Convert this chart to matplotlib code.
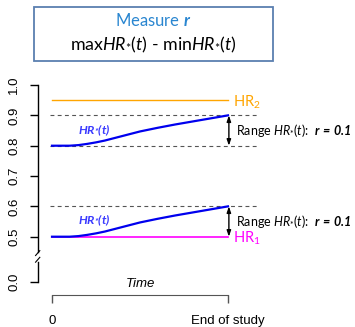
import numpy as np
import matplotlib
matplotlib.use("Agg")
import matplotlib.pyplot as plt
from matplotlib.patches import Rectangle

plt.rcParams['font.family'] = ['Liberation Sans', 'DejaVu Sans']
plt.rcParams['mathtext.fontset'] = 'custom'
plt.rcParams['mathtext.rm'] = 'Lato'
plt.rcParams['mathtext.it'] = 'Lato:italic'
plt.rcParams['mathtext.bf'] = 'Lato:bold'
plt.rcParams['mathtext.bfit'] = 'Lato:bold:italic'

# data
time = [0, 0.05, 0.1, 0.15, 0.2, 0.25, 0.3, 0.4, 0.5, 0.6, 0.7, 0.8, 0.9, 1.0]
hr_upper = [0.800, 0.800, 0.800, 0.802, 0.806, 0.811, 0.817, 0.832, 0.847, 0.859, 0.870, 0.880, 0.890, 0.900]
hr_lower = [0.500, 0.500, 0.500, 0.502, 0.506, 0.511, 0.517, 0.532, 0.547, 0.559, 0.570, 0.580, 0.590, 0.600]
hr1 = 0.5
hr2 = 0.95
ranges = [(0.8, 0.9), (0.5, 0.6)]
ytick_pos = [0.35, 0.5, 0.6, 0.7, 0.8, 0.9, 1.0]
ytick_lab = ["0.0", "0.5", "0.6", "0.7", "0.8", "0.9", "1.0"]
xtick_pos = [0, 1]
xtick_lab = ["0", "End of study"]

fig = plt.figure(figsize=(3.55, 3.27), dpi=100)
ax = fig.add_axes([0, 0, 1, 1])
ax.set_xlim(-0.2955, 1.7216)
ax.set_ylim(0.2023, 1.2804)
ax.patch.set_visible(False)

# axes (R style, with a break on the y axis)
xaxis_x = -0.0813
for s in ['top', 'right']:
    ax.spines[s].set_visible(False)
ax.spines['left'].set_position(('data', xaxis_x))
ax.spines['left'].set_bounds(0.4496, 1.0)
ax.spines['left'].set_linewidth(1.0)
ax.spines['bottom'].set_position(('data', 0.3078))
ax.spines['bottom'].set_bounds(0, 1)
ax.spines['bottom'].set_color('#555555')
ax.set_yticks(ytick_pos, ytick_lab, rotation=90, va='center', fontsize=9.5)
ax.set_xticks(xtick_pos, xtick_lab, fontsize=9.5)
ax.tick_params(axis='y', length=5.5, width=1.0, pad=7)
ax.tick_params(axis='x', length=5.5, width=1.0, pad=9, color='#555555')
ax.plot([xaxis_x, xaxis_x], [0.35, 0.4166], color='black', lw=1.0, clip_on=False)
dx, dy = 0.012, 0.008
for yc in [0.4460, 0.4240]:
    ax.plot([xaxis_x - dx, xaxis_x + dx], [yc - dy, yc + dy], color='black', lw=0.8)

ax.text(0.5, 0.344, "Time", ha='center', va='center', fontsize=9.5, style='italic')

# reference levels
for lo, hi in ranges:
    for lev in (lo, hi):
        if lev == hr1:
            continue
        ax.plot([-0.011, 1.165], [lev, lev], color='#555555', lw=0.8, ls=(0, (3.5, 3)))
ax.plot([0, 1], [hr2, hr2], color='#FFA500', lw=1.0)
ax.plot([0, 1], [hr1, hr1], color='#FF00FF', lw=1.2)

ax.plot(time, hr_upper, color='#0000EE', lw=1.6)
ax.plot(time, hr_lower, color='#0000EE', lw=1.6)

for y in (0.852, 0.555):
    ax.text(0.24, y, r"$\mathbfit{HR}_{\mathbfit{*}}\mathbfit{(t)}$", color='#3a3aff',
            ha='center', va='center', fontsize=8.8)

for lo, hi in ranges:
    ax.annotate('', xy=(1.005, hi), xytext=(1.005, lo),
                arrowprops=dict(arrowstyle='<|-|>,head_length=0.35,head_width=0.12',
                                color='black', lw=1.0, shrinkA=0, shrinkB=0))
    ax.text(1.043, (lo + hi) / 2, r"Range $\mathit{HR}_{\mathit{*}}\mathit{(t)}$:  $\mathbfit{r\,=\,0.1}$",
            ha='left', va='center', fontsize=9.0, family='Lato')

ax.text(1.03, 0.9286, r"HR$_{\mathrm{2}}$", color='#FFA500', ha='left', va='baseline', fontsize=10.5, family='Lato')
ax.text(1.03, 0.4802, r"HR$_{\mathrm{1}}$", color='#FF00FF', ha='left', va='baseline', fontsize=10.5, family='Lato')

# title box
ax.add_patch(Rectangle((0.0958, 0.8144), 0.672, 0.1651, transform=ax.transAxes,
                       fill=False, edgecolor='#5a7fb0', lw=1.3, clip_on=False))
ax.text(0.432, 0.936, r"Measure $\mathbfit{r}$", transform=ax.transAxes, color='#2a86d0',
        ha='center', va='center', fontsize=12, family='Lato')
ax.text(0.432, 0.862, r"max$\mathit{HR}_{\mathit{*}}\mathit{(t)}$ - min$\mathit{HR}_{\mathit{*}}\mathit{(t)}$",
        transform=ax.transAxes, color='black', ha='center', va='center', fontsize=12.8, family='Lato')

fig.savefig("out.png", dpi=100)
